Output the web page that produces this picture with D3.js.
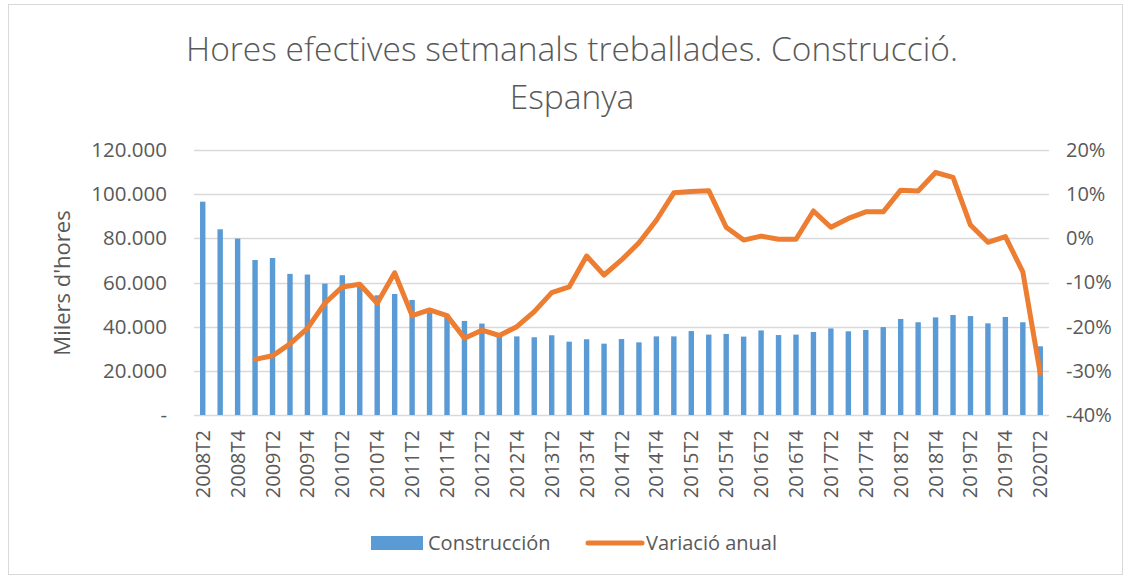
<!DOCTYPE html>
<html>
<head>
<meta charset="utf-8">
<script src="https://cdn.jsdelivr.net/npm/d3@7"></script>
<style>
  body { margin: 0; background: #fff; }
  text { font-family: "Open Sans", sans-serif; fill: #595959; }
</style>
</head>
<body>
<svg id="chart" width="1131" height="579"></svg>
<script>
// trimestres 2008T2 .. 2020T2
const quarters = [];
for (let y = 2008; y <= 2020; y++) {
  for (let q = 1; q <= 4; q++) {
    if ((y == 2008 && q < 2) || (y == 2020 && q > 2)) continue;
    quarters.push(y + "T" + q);
  }
}

// milers d'hores
const construccio = [
  96600, 84100, 79900, 70200, 71100, 63900, 63600, 59500, 63300, 58500,
  54200, 54800, 52100, 47800, 45500, 42600, 41400, 36000, 35600, 35200,
  36100, 33200, 34300, 32300, 34400, 32900, 35600, 35600, 38000, 36400,
  36700, 35500, 38300, 36200, 36400, 37600, 39200, 37900, 38500, 39800,
  43500, 42000, 44200, 45300, 44800, 41500, 44400, 42000, 31100
];

// variació anual (%)
const variacio = [
  null, null, null, -27.4, -26.6, -23.9, -20.4, -14.7, -11.0, -10.4,
  -14.7, -7.8, -17.5, -16.2, -17.5, -22.6, -20.8, -22.0, -20.0, -16.6,
  -12.3, -11.0, -4.0, -8.3, -4.9, -1.0, 4.1, 10.3, 10.6, 10.8,
  2.5, -0.4, 0.5, -0.2, -0.2, 6.2, 2.5, 4.5, 6.0, 6.0,
  10.9, 10.7, 14.9, 13.8, 3.0, -0.9, 0.4, -7.6, -30.6
];

const leftTicks = [0, 20000, 40000, 60000, 80000, 100000, 120000];
const rightTicks = [-40, -30, -20, -10, 0, 10, 20];

const svg = d3.select("#chart");
const margin = { left: 194, right: 82, top: 150, bottom: 164 };
const width = 1131 - margin.left - margin.right;
const height = 579 - margin.top - margin.bottom;

// chart border
svg.append("rect")
  .attr("x", 8.5).attr("y", 4.5)
  .attr("width", 1114).attr("height", 570)
  .attr("fill", "none").attr("stroke", "#D9D9D9");

svg.append("text")
  .attr("x", 572).attr("y", 61)
  .attr("text-anchor", "middle")
  .style("font-size", "33.5px").style("font-weight", 300)
  .text("Hores efectives setmanals treballades. Construcció.");
svg.append("text")
  .attr("x", 572).attr("y", 109)
  .attr("text-anchor", "middle")
  .style("font-size", "33.5px").style("font-weight", 300)
  .text("Espanya");

const g = svg.append("g").attr("transform", `translate(${margin.left},${margin.top})`);

const x = d3.scaleBand().domain(quarters).range([0, width])
  .paddingInner(0.69).paddingOuter(0.345);
const y = d3.scaleLinear().domain([0, 120000]).range([height, 0]);
const y2 = d3.scaleLinear().domain([-40, 20]).range([height, 0]);

// gridlines
g.append("g")
  .selectAll("line")
  .data(leftTicks)
  .join("line")
  .attr("x1", 0).attr("x2", width)
  .attr("y1", d => Math.round(y(d)) + 0.5).attr("y2", d => Math.round(y(d)) + 0.5)
  .attr("stroke", "#D9D9D9").attr("stroke-width", 1.5);

// left axis
const fmt = d => d == 0 ? "-" : d3.format(",")(d).replace(/,/g, ".");
const yAxis = g.append("g")
  .call(d3.axisLeft(y).tickValues(leftTicks).tickFormat(fmt).tickSize(0).tickPadding(27));
yAxis.select(".domain").remove();
yAxis.selectAll("text").style("font-size", "20.5px");

svg.append("text")
  .attr("transform", "translate(70,283) rotate(-90)")
  .attr("text-anchor", "middle")
  .style("font-size", "22px")
  .text("Milers d'hores");

// right axis
const y2Axis = g.append("g")
  .attr("transform", `translate(${width},0)`)
  .call(d3.axisRight(y2).tickValues(rightTicks).tickFormat(d => d + "%").tickSize(0).tickPadding(17));
y2Axis.select(".domain").remove();
y2Axis.selectAll("text").style("font-size", "20px");

// x axis
const xAxis = g.append("g")
  .attr("transform", `translate(0,${height})`)
  .call(d3.axisBottom(x).tickValues(quarters.filter((d, i) => i % 2 == 0)).tickSize(0));
xAxis.select(".domain").remove();
xAxis.selectAll("text")
  .attr("transform", "rotate(-90)")
  .attr("x", -15).attr("y", 0).attr("dy", "0.35em")
  .style("text-anchor", "end")
  .style("font-size", "20px");

// bars
g.selectAll(".bar")
  .data(construccio)
  .join("rect")
  .attr("class", "bar")
  .attr("x", (d, i) => x(quarters[i]))
  .attr("y", d => y(d))
  .attr("width", x.bandwidth())
  .attr("height", d => height - y(d))
  .attr("fill", "#5B9BD5");

// line
const line = d3.line()
  .defined(d => d != null)
  .x((d, i) => x(quarters[i]) + x.bandwidth() / 2)
  .y(d => y2(d));
g.append("path")
  .datum(variacio)
  .attr("d", line)
  .attr("fill", "none")
  .attr("stroke", "#ED7D31")
  .attr("stroke-width", 5)
  .attr("stroke-linejoin", "round")
  .attr("stroke-linecap", "round");

// legend
const leg = svg.append("g").attr("transform", "translate(0,543)");
leg.append("rect").attr("x", 371).attr("y", -7).attr("width", 52).attr("height", 14).attr("fill", "#5B9BD5");
leg.append("text").attr("x", 428).attr("y", 0).attr("dy", "0.35em").style("font-size", "20px").text("Construcción");
leg.append("line").attr("x1", 588).attr("x2", 642).attr("y1", 0).attr("y2", 0)
  .attr("stroke", "#ED7D31").attr("stroke-width", 5).attr("stroke-linecap", "round");
leg.append("text").attr("x", 646).attr("y", 0).attr("dy", "0.35em").style("font-size", "20px").text("Variació anual");
</script>
</body>
</html>
